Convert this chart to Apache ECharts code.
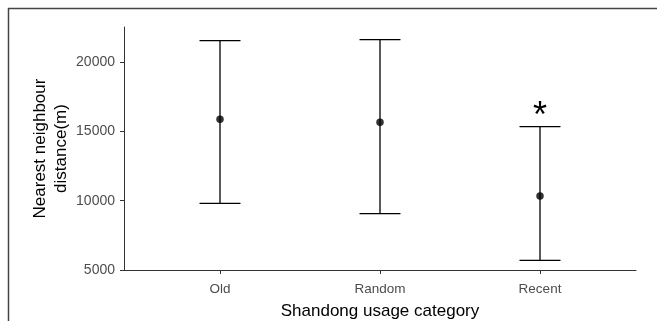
<!DOCTYPE html>
<html>
<head>
<meta charset="utf-8">
<script src="https://cdn.jsdelivr.net/npm/echarts@6/dist/echarts.min.js"></script>
<style>
html,body{margin:0;padding:0;background:#fff;}
#chart{width:657px;height:321px;}
</style>
</head>
<body>
<div id="chart"></div>
<script>
var categories = ['Old', 'Random', 'Recent'];
var meanValues = [15870, 15660, 10340];
var lowerValues = [9810, 9060, 5700];
var upperValues = [21550, 21620, 15340];
var yTickValues = [5000, 10000, 15000, 20000];
var annotations = [null, null, '*'];
var annotationValues = [null, null, 16700];

var errData = categories.map(function (c, i) { return [i + 1, lowerValues[i], upperValues[i]]; });
var meanData = categories.map(function (c, i) { return [i + 1, meanValues[i]]; });
var annData = [];
categories.forEach(function (c, i) { if (annotations[i]) annData.push([i + 1, annotationValues[i], annotations[i]]); });

var chart = echarts.init(document.getElementById('chart'), null, {renderer: 'canvas'});
var font = 'Liberation Sans, Arial, sans-serif';
chart.setOption({
  animation: false,
  backgroundColor: '#ffffff',
  grid: {left: 124, right: 21, top: 27, bottom: 51, containLabel: false, outerBoundsMode: 'none'},
  graphic: [
    {type: 'line', shape: {x1: 8, y1: 8.5, x2: 657, y2: 8.5}, style: {stroke: '#444', lineWidth: 1.5}},
    {type: 'line', shape: {x1: 8.5, y1: 8, x2: 8.5, y2: 321}, style: {stroke: '#444', lineWidth: 1.5}}
  ],
  xAxis: {
    type: 'value', min: 0.4, max: 3.6,
    name: 'Shandong usage category', nameLocation: 'middle', nameGap: 33, nameMoveOverlap: false,
    nameTextStyle: {color: '#000', fontSize: 17, fontFamily: font},
    axisLine: {show: true, lineStyle: {color: '#333', width: 1}},
    axisTick: {show: true, length: 4, lineStyle: {color: '#333'}, customValues: [1, 2, 3]},
    axisLabel: {color: '#4d4d4d', fontSize: 13.5, fontFamily: font, margin: 12, customValues: [1, 2, 3],
      formatter: function (v) { return categories[Math.round(v) - 1] || ''; }},
    splitLine: {show: false}
  },
  yAxis: {
    type: 'value', min: 5000, max: 22530,
    name: 'Nearest neighbour\ndistance(m)', nameLocation: 'middle', nameGap: 52, nameRotate: 90, nameMoveOverlap: false,
    nameTextStyle: {color: '#000', fontSize: 17, fontFamily: font, lineHeight: 21, align: 'center'},
    axisLine: {show: true, lineStyle: {color: '#333', width: 1}},
    axisTick: {show: true, length: 4, lineStyle: {color: '#333'}, customValues: yTickValues},
    axisLabel: {color: '#4d4d4d', fontSize: 14, fontFamily: font, margin: 9, customValues: yTickValues,
      formatter: function (v) { return String(v); }},
    splitLine: {show: false}
  },
  series: [
    {
      type: 'custom',
      data: errData,
      renderItem: function (params, api) {
        var x = api.value(0);
        var pLo = api.coord([x, api.value(1)]);
        var pHi = api.coord([x, api.value(2)]);
        var half = api.size([0.128, 0])[0];
        var st = {stroke: '#000', lineWidth: 1.3};
        return {type: 'group', children: [
          {type: 'line', shape: {x1: pHi[0], y1: pHi[1], x2: pLo[0], y2: pLo[1]}, style: st},
          {type: 'line', shape: {x1: pHi[0] - half, y1: pHi[1], x2: pHi[0] + half, y2: pHi[1]}, style: st},
          {type: 'line', shape: {x1: pLo[0] - half, y1: pLo[1], x2: pLo[0] + half, y2: pLo[1]}, style: st}
        ]};
      },
      z: 2
    },
    {
      type: 'scatter', data: meanData, symbol: 'circle', symbolSize: 7.5,
      itemStyle: {color: '#000'}, z: 3
    },
    {
      type: 'custom',
      data: annData,
      renderItem: function (params, api) {
        var p = api.coord([api.value(0), api.value(1)]);
        return {type: 'text', x: p[0], y: p[1] + 9,
          style: {text: annData[params.dataIndex][2], fill: '#000', font: '36px ' + font, align: 'center', verticalAlign: 'middle'}};
      },
      z: 4
    }
  ]
});
</script>
</body>
</html>
